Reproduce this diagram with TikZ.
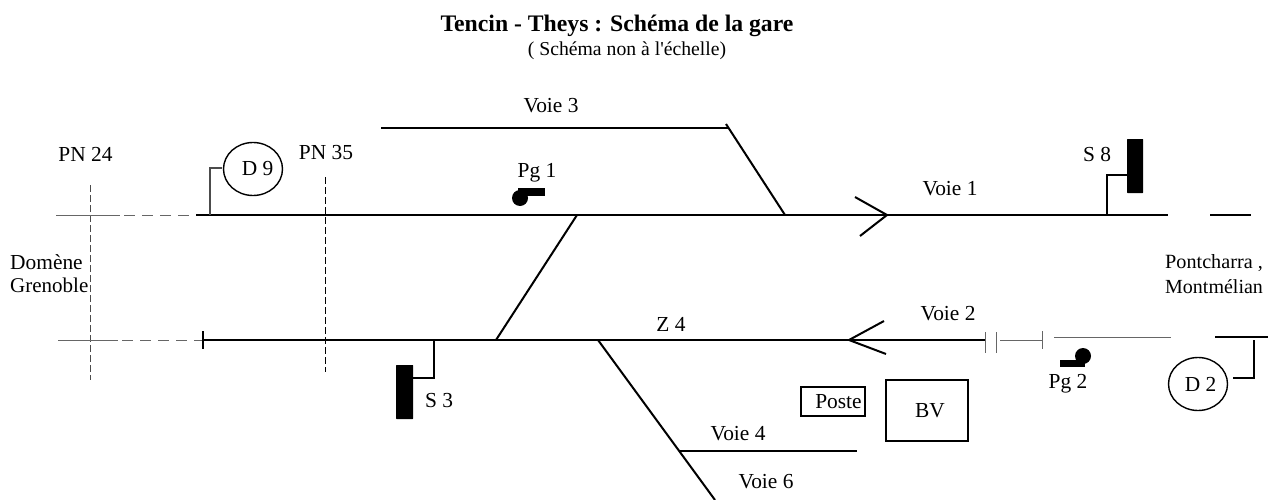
\documentclass[tikz,border=0pt]{standalone}
\usepackage{fontspec}
\setmainfont{Liberation Serif}
\newfontfamily\sousfont{Liberation Serif}
\usetikzlibrary{shapes.geometric}

\tikzset{
  lbl/.style={inner sep=0pt,font=\fontsize{21.4}{24}\selectfont},
  voie/.style={line width=2pt},
  thin voie/.style={line width=1pt,black!60},
  pn/.style={line width=1pt,black!70,dash pattern=on 7pt off 3pt},
  bras/.style={line width=1.3pt},
  cible/.style={draw,line width=1.4pt,ellipse,minimum width=59pt,minimum height=53pt,inner sep=0pt,font=\fontsize{21.4}{24}\selectfont},
  carre/.style={draw,line width=1.4pt,inner sep=0pt,font=\fontsize{21.4}{24}\selectfont},
}

\begin{document}
\begin{tikzpicture}[x=1pt,y=-1pt]
\useasboundingbox (0,0) rectangle (1268,500);

\coordinate (A1) at (196,215);
\coordinate (A2) at (1168,215);
\coordinate (B1) at (203,340);
\coordinate (B2) at (985,340);
\coordinate (J1) at (577,215);
\coordinate (J2) at (496,340);
\coordinate (J3) at (785,215);
\coordinate (J4) at (728,128);
\coordinate (J5) at (598,340);
\coordinate (J6) at (715,500);
\coordinate (J7) at (679,451);

\node [lbl,font=\fontsize{23.7}{26}\selectfont\bfseries] (titre) at (617,26) {Tencin - Theys : Schéma de la gare};
\node [lbl,font=\sousfont\fontsize{19.7}{22}\selectfont] (sous) at (627,51) {( Schéma non à l'échelle)};

\draw [pn] (90,185) -- (90,380);
\draw [pn,line width=0.8pt,black] (325.5,177) -- (325.5,372);

\draw [thin voie] (56,215) -- (120,215);
\draw [thin voie,dash pattern=on 11pt off 7pt] (124,215) -- (A1);
\draw [thin voie] (58,340) -- (118,340);
\draw [thin voie,dash pattern=on 11pt off 7pt] (122,340) -- (B1);

\draw [voie] (A1) -- (A2);
\draw [voie] (1210,215) -- (1251,215);
\draw [voie] (B1) -- (B2);
\draw [voie] (381,128) -- (J4);
\draw [voie] (726,124) -- (J3);
\draw [voie] (J1) -- (J2);
\draw [voie] (J5) -- (J6);
\draw [voie,line width=1.5pt] (J7) -- (857,451);
\draw [voie,black!60] (715,500.5) -- (852,500.5);
\draw [voie] (855,197) -- (887,215) -- (860,236);
\draw [voie] (884,321) -- (849,340) -- (886,354);

\draw [bras] (203,331) -- (203,349);
\draw [thin voie] (985,332) -- (985,353);
\draw [thin voie] (996,332) -- (996,353);
\draw [thin voie] (1000,340) -- (1042,340);
\draw [thin voie] (1042,331) -- (1042,349);
\draw [thin voie] (1054,337) -- (1171,337);
\draw [voie] (1215,337) -- (1268,337);

% signaux
\node [cible] (D9) at (253,169) {\hspace*{9pt}D 9};
\node [cible] (D2) at (1198,384) {\hspace*{5pt}D 2};
\draw [bras,black!70] (210,215) -- (210,168) -- (222,168);
\draw [bras] (1254,340) -- (1254,378) -- (1233,378);

\fill [rounded corners=0.5pt] (1127,139) rectangle (1143,193);
\fill [rounded corners=0.5pt] (396,365) rectangle (413,419);
\draw [bras] (1107,215) -- (1107,175) -- (1127,175);
\draw [bras] (434,340) -- (434,378) -- (413,378);

\fill (520,198) circle (8);
\fill (518,188) rectangle (545,196);
\fill (1083,356) circle (8);
\fill (1060,360) rectangle (1085,367);

\node [carre,minimum width=64pt,minimum height=29pt] (poste) at (833,401.5) {\hspace*{11pt}Poste};
\node [carre,minimum width=82pt,minimum height=61pt] (bv) at (927,410.5) {\hspace*{6pt}BV};

\node [lbl] (pn24) at (85.5,154) {PN 24};
\node [lbl] (pn35) at (326,153) {PN 35};
\node [lbl,anchor=west] (domene) at (10,262) {Domène};
\node [lbl,anchor=west,font=\fontsize{21}{24}\selectfont] (grenoble) at (10,285) {Grenoble};
\node [lbl,anchor=west,font=\fontsize{20.2}{24}\selectfont] (pontcharra) at (1165,263) {Pontcharra ,};
\node [lbl,anchor=west,font=\fontsize{20}{24}\selectfont] (montmelian) at (1165,287) {Montmélian};
\node [lbl] (v3) at (551,106) {Voie 3};
\node [lbl] (v1) at (950,189) {Voie 1};
\node [lbl] (v2) at (948,314) {Voie 2};
\node [lbl] (v4) at (738,434) {Voie 4};
\node [lbl] (v6) at (766,482) {Voie 6};
\node [lbl] (z4) at (671,324) {Z 4};
\node [lbl] (s8) at (1097,154) {S 8};
\node [lbl] (s3) at (439,401) {S 3};
\node [lbl] (pg1) at (537,173) {Pg 1};
\node [lbl] (pg2) at (1068,384) {Pg 2};
\end{tikzpicture}
\end{document}
